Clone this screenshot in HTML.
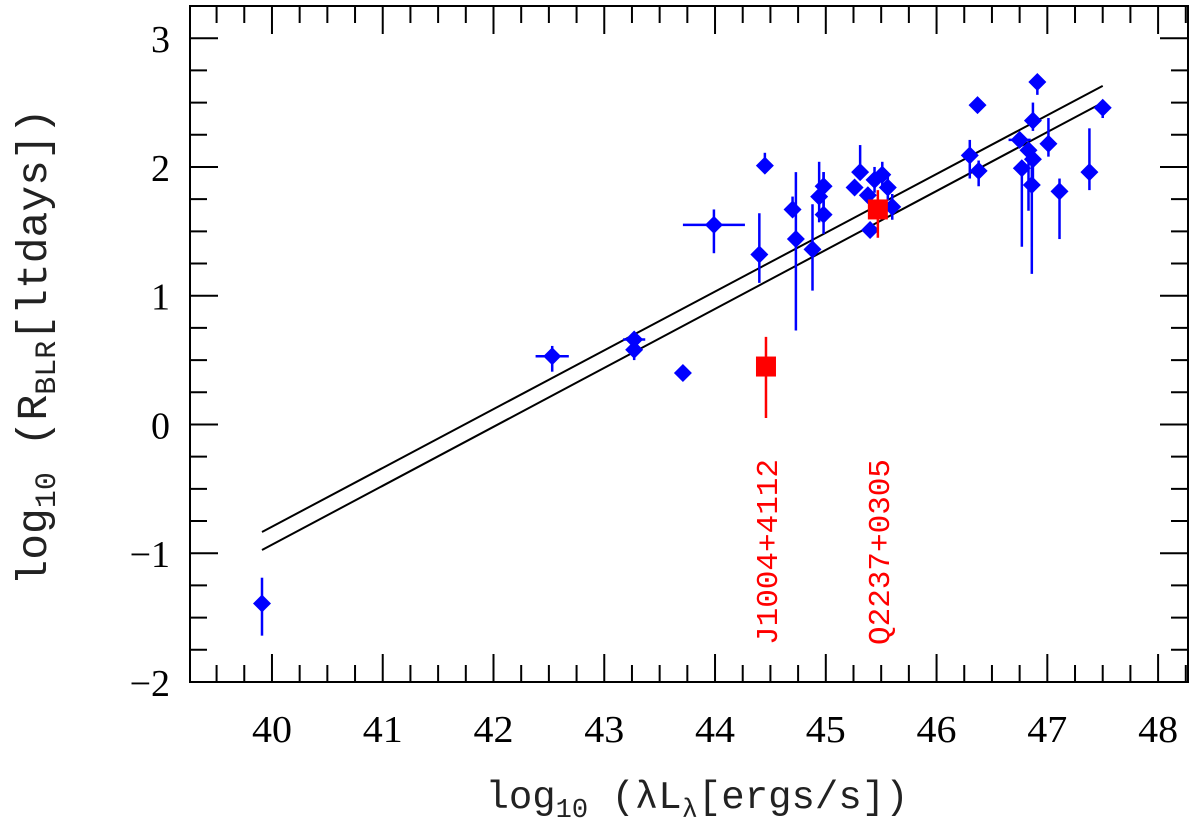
<!DOCTYPE html>
<html><head><meta charset="utf-8"><style>
html,body{margin:0;padding:0;background:#fff;}
svg{display:block;font-family:"Liberation Serif",serif;}
.mono{font-family:"Liberation Mono",monospace;}
</style></head><body>
<svg id="chart" width="1200" height="820" viewBox="0 0 1200 820">
<g id="grid"></g>
<g id="lines"></g>
<g id="marks"></g>
<g id="labels"></g>
</svg>
<script>
const NS="http://www.w3.org/2000/svg";
// data
const blueX=[39.91,42.53,43.27,43.27,43.71,43.99,44.45,44.40,44.70,44.73,44.88,44.94,44.98,44.98,45.26,45.31,45.38,45.40,45.44,45.51,45.56,45.60,46.37,46.30,46.38,46.91,46.87,46.75,46.83,46.77,46.87,46.86,47.01,47.11,47.38,47.50];
const blueY=[-1.39,0.53,0.66,0.58,0.40,1.55,2.01,1.32,1.67,1.44,1.36,1.77,1.85,1.63,1.84,1.96,1.78,1.51,1.90,1.94,1.84,1.69,2.48,2.09,1.97,2.66,2.36,2.21,2.13,1.99,2.06,1.86,2.18,1.81,1.96,2.46];
const blueYErrUp=[0.2,0.08,0.05,0.05,0.02,0.12,0.1,0.32,0.1,0.52,0.35,0.27,0.11,0.33,0.05,0.21,0.02,0.02,0.1,0.1,0.1,0.1,0.02,0.12,0.08,0.02,0.14,0.06,0.05,0.05,0.05,0.15,0.2,0.1,0.34,0.02];
const blueYErrDn=[0.25,0.12,0.05,0.08,0.02,0.22,0.02,0.22,0.02,0.71,0.32,0.2,0.2,0.15,0.05,0.05,0.02,0.02,0.1,0.1,0.1,0.1,0.02,0.18,0.12,0.1,0.08,0.02,0.47,0.61,0.2,0.69,0.1,0.37,0.14,0.08];
const blueXErr=[0,0.15,0.1,0,0,0.28,0,0,0,0,0,0,0,0,0,0,0,0,0,0,0,0,0,0,0,0,0,0.1,0,0,0,0,0,0,0,0];
const redX=[44.46,45.47];
const redY=[0.45,1.67];
const redErrUp=[0.23,0.15];
const redErrDn=[0.40,0.22];
const redNames=["J1004+4112","Q2237+0305"];
const fitX=[39.91,47.50];
const fitUpper=[-0.835,2.63];
const fitLower=[-0.975,2.50];
const xTicks=[40,41,42,43,44,45,46,47,48];
const yTicks=[-2,-1,0,1,2,3];

const X0=190,X1=1188,Y0=6,Y1=682;
const xmin=39.26,xmax=48.27,ymin=-2,ymax=3.25;
const sx=v=>X0+(v-xmin)/(xmax-xmin)*(X1-X0);
const sy=v=>Y1-(v-ymin)/(ymax-ymin)*(Y1-Y0);
function mk(tag,attrs,parent){const e=document.createElementNS(NS,tag);for(const k in attrs)e.setAttribute(k,attrs[k]);parent.appendChild(e);return e;}
const G=document.getElementById('grid'),L=document.getElementById('lines'),M=document.getElementById('marks'),T=document.getElementById('labels');
let fr=mk('rect',{x:X0,y:Y0,width:X1-X0,height:Y1-Y0,fill:'none',stroke:'#000','stroke-width':2},G);


for(let v=39.25;v<=48.27;v+=0.25){const px=sx(v);if(px<X0+1||px>X1-1)continue;const maj=Math.abs(v-Math.round(v))<1e-6;const len=maj?28:17;
mk('line',{x1:px,y1:Y1,x2:px,y2:Y1-len,stroke:'#000','stroke-width':2},G);mk('line',{x1:px,y1:Y0,x2:px,y2:Y0+len,stroke:'#000','stroke-width':2},G);}
for(let v=-2;v<=3.25;v+=0.25){const py=sy(v);if(py<Y0+1||py>Y1-1)continue;const maj=Math.abs(v-Math.round(v))<1e-6;const len=maj?28:17;
mk('line',{x1:X0,y1:py,x2:X0+len,y2:py,stroke:'#000','stroke-width':2},G);mk('line',{x1:X1,y1:py,x2:X1-len,y2:py,stroke:'#000','stroke-width':2},G);}
xTicks.forEach(v=>{const t=mk('text',{x:sx(v),y:Y1+60,'text-anchor':'middle','font-size':38,textLength:40,lengthAdjust:'spacingAndGlyphs'},T);t.textContent=v;

});
yTicks.forEach(v=>{const t=mk('text',{x:170,y:sy(v)+14,'text-anchor':'end','font-size':38},T);t.textContent=v<0?'\u2212'+(-v):v;

});
[fitUpper,fitLower].forEach((f,i)=>{const l=mk('line',{x1:sx(fitX[0]),y1:sy(f[0]),x2:sx(fitX[1]),y2:sy(f[1]),stroke:'#000','stroke-width':2},L);

});
blueX.forEach((x,i)=>{const cx=sx(x),cy=sy(blueY[i]);
mk('line',{x1:cx,y1:sy(blueY[i]+blueYErrUp[i]),x2:cx,y2:sy(blueY[i]-blueYErrDn[i]),stroke:'#0000ff','stroke-width':2.5},M);
if(blueXErr[i]>0)mk('line',{x1:sx(x-blueXErr[i]),y1:cy,x2:sx(x+blueXErr[i]),y2:cy,stroke:'#0000ff','stroke-width':2.5},M);
const d=mk('polygon',{points:`${cx},${cy-9} ${cx+9},${cy} ${cx},${cy+9} ${cx-9},${cy}`,fill:'#0000ff'},M);

});
redX.forEach((x,i)=>{const cx=sx(x),cy=sy(redY[i]);
mk('line',{x1:cx,y1:sy(redY[i]+redErrUp[i]),x2:cx,y2:sy(redY[i]-redErrDn[i]),stroke:'#ff0000','stroke-width':2.5},M);
const r=mk('rect',{x:cx-10,y:cy-10,width:20,height:20,fill:'#ff0000'},M);


const t=mk('text',{x:0,y:0,'text-anchor':'middle','font-size':31,fill:'#ff0000','class':'mono',transform:`translate(${cx+11},552) rotate(-90)`},T);
t.textContent=redNames[i];

});
const xt=mk('text',{x:697,y:808,'text-anchor':'middle','font-size':39,fill:'#222','class':'mono'},T);
xt.innerHTML='log<tspan font-size="27" dy="9">10</tspan><tspan dy="-9"> (λL</tspan><tspan font-size="27" dy="9">λ</tspan><tspan dy="-9">[ergs/s])</tspan>';


const yt=mk('text',{x:0,y:0,'text-anchor':'middle','font-size':43,fill:'#222','class':'mono',transform:'translate(46,347) rotate(-90)'},T);
yt.innerHTML='log<tspan font-size="30" dy="9">10</tspan><tspan dy="-9"> (R</tspan><tspan font-size="30" dy="9">BLR</tspan><tspan dy="-9">[ltdays])</tspan>';


</script>
</body></html>
